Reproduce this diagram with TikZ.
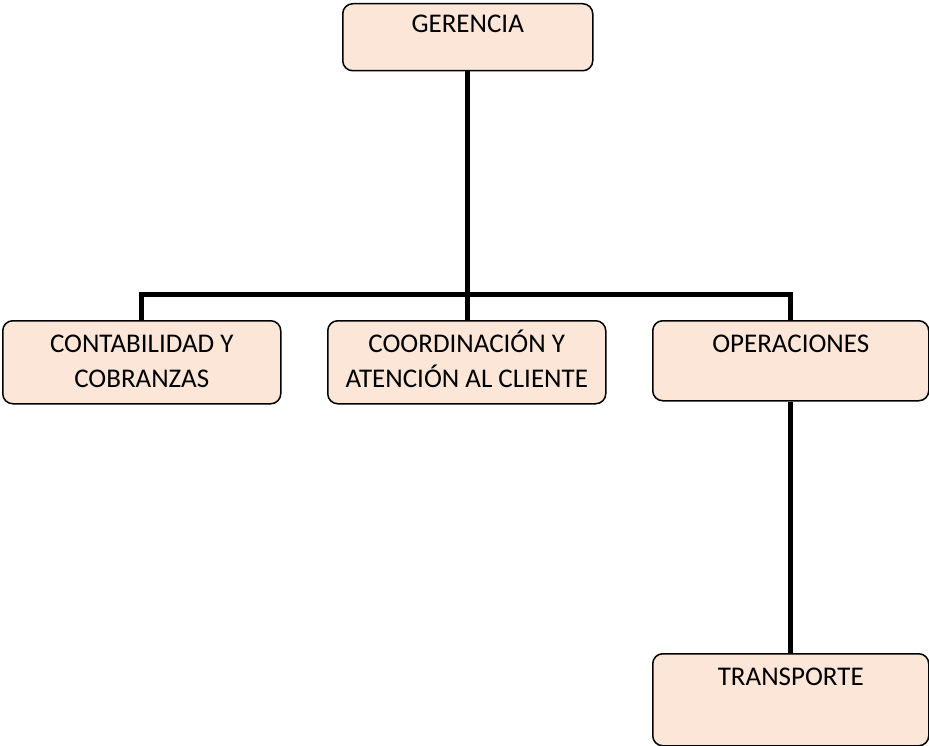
\documentclass[tikz,border=0pt]{standalone}
\usepackage{fontspec}
\setmainfont{Carlito}
\definecolor{boxfill}{HTML}{FBE6D8}
\begin{document}
\begin{tikzpicture}[x=1pt,y=-1pt,
  orgbox/.style={draw=black, line width=1.5pt, fill=boxfill, rounded corners=10pt, anchor=north west, inner sep=0pt},
  orgtext/.style={anchor=base, align=center, inner sep=0pt, font=\fontsize{27}{35.5}\selectfont},
  conn/.style={line width=5pt, draw=black}]
\useasboundingbox (0,0) rectangle (929,746);
\node[orgbox, minimum width=250pt, minimum height=67pt] (g) at (342,3) {};
\node[orgbox, minimum width=278pt, minimum height=83pt] (c) at (2,320) {};
\node[orgbox, minimum width=278pt, minimum height=83pt] (co) at (327,320) {};
\node[orgbox, minimum width=276pt, minimum height=80pt] (o) at (652,320) {};
\node[orgbox, minimum width=276pt, minimum height=92pt] (t) at (652,653) {};
\node[orgtext] (gt) at ([yshift=-30pt]g.north) {GERENCIA};
\node[orgtext] (ct) at ([yshift=-67.5pt]c.north) {CONTABILIDAD Y\\COBRANZAS};
\node[orgtext] (cot) at ([yshift=-67.5pt]co.north) {COORDINACIÓN Y\\ATENCIÓN AL CLIENTE};
\node[orgtext] (ot) at ([yshift=-32pt]o.north) {OPERACIONES};
\node[orgtext] (tt) at ([yshift=-32pt]t.north) {TRANSPORTE};
\draw[conn] (g.south) -- (g.south |- co.north);
\draw[conn] (c.north) -- ++(0,-26) -| (o.north);
\draw[conn] (o.south) -- (t.north);
\end{tikzpicture}
\end{document}
